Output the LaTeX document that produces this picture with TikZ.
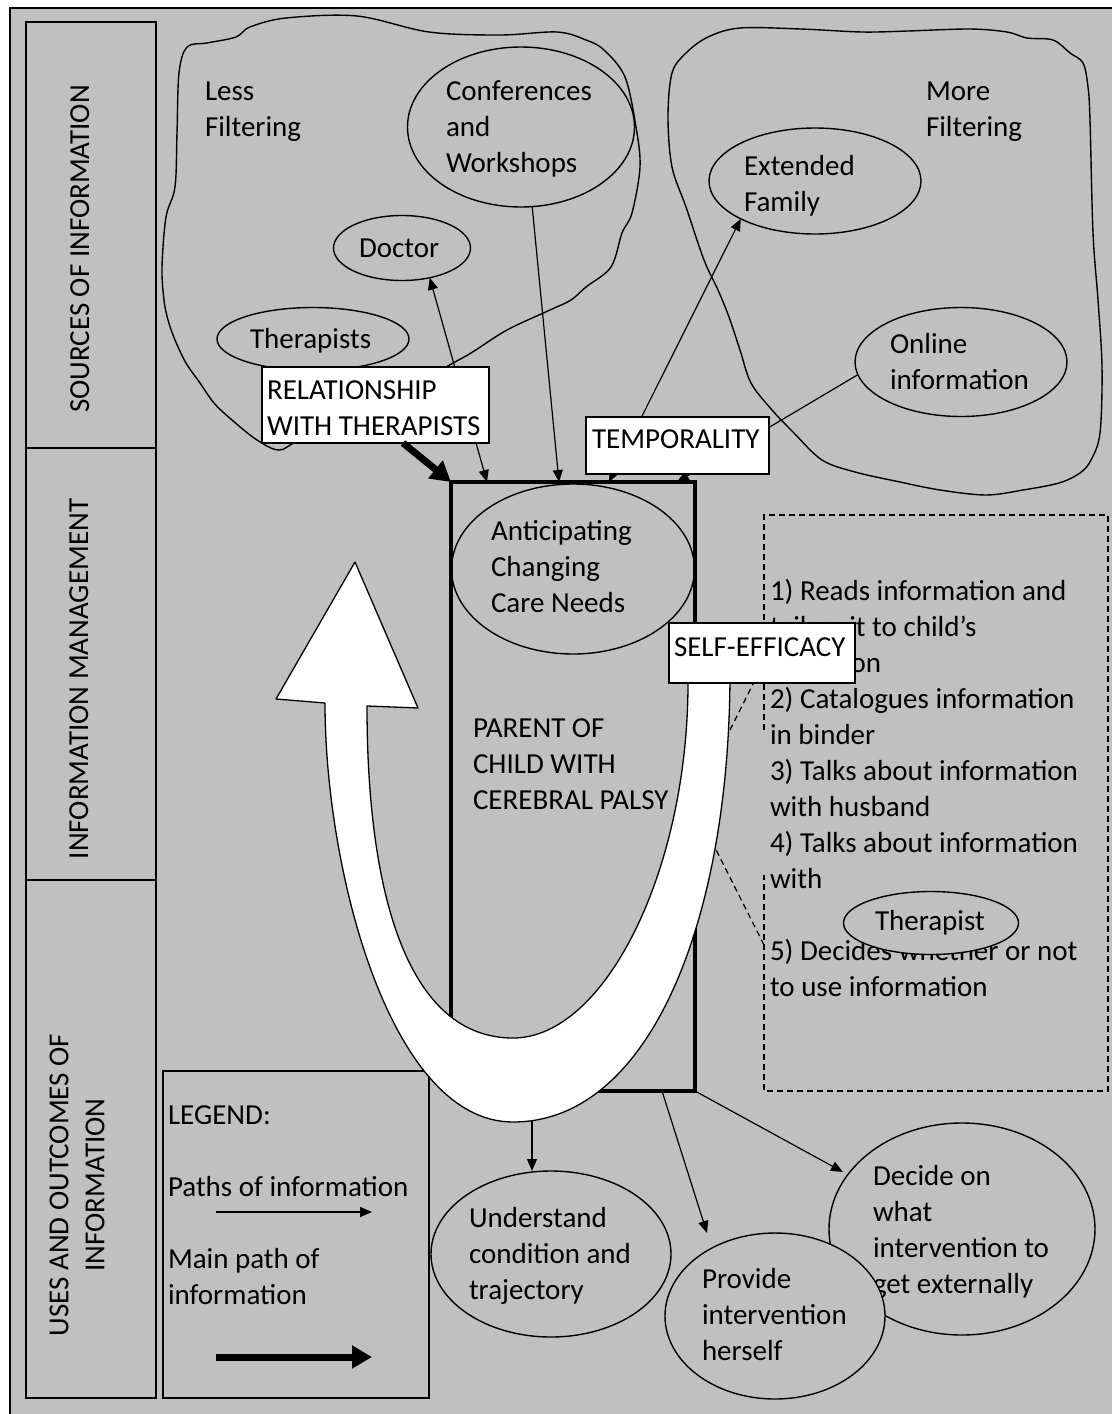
\documentclass[tikz,border=0pt]{standalone}
\usepackage{fontspec}
\setmainfont{Carlito}
\usetikzlibrary{shapes.geometric, arrows.meta, calc}
\definecolor{panel}{RGB}{192,192,192}
\begin{document}
\begin{tikzpicture}[x=1pt, y=-1pt,
  every node/.style={font=\fontsize{29}{36}\selectfont},
  txt/.style={anchor=north west, inner sep=0pt, outer sep=0pt, align=left, yshift=25.2pt},
  ell/.style={draw, ellipse, line width=1.4pt, inner sep=0pt, outer sep=0pt},
  box/.style={draw, fill=white, line width=1.4pt, inner sep=0pt, outer sep=0pt, anchor=north west},
  col/.style={draw, line width=1.4pt, inner sep=0pt, outer sep=0pt, anchor=north west, minimum width=130pt},
  side/.style={rotate=90, anchor=base, inner sep=0pt},
  blob/.style={line width=1.4pt},
  flow/.style={line width=1.2pt, -{Triangle[length=12pt,width=10pt]}},
  both/.style={line width=1.2pt, {Triangle[length=12pt,width=10pt]}-{Triangle[length=12pt,width=10pt]}},
  mainflow/.style={line width=7pt, -{Triangle[length=20pt,width=22pt]}},
  callout/.style={line width=1.2pt, dash pattern=on 6pt off 4pt},
  loop/.style={draw, fill=white, line width=1.3pt, line join=round},
]
\useasboundingbox (0,0) rectangle (1112,1414);

% page panel
\fill[panel] (10,8) rectangle (1112,1414);
\draw[line width=1.5pt] (10,1414) -- (10,8) -- (1112,8);

% stage column
\node[col, minimum height=426pt] (c1) at (26,22) {};
\node[col, minimum height=432pt] (c2) at (26,448) {};
\node[col, minimum height=518pt] (c3) at (26,880) {};
\node[side] (c1t) at (89,249) {SOURCES OF INFORMATION};
\node[side] (c2t) at (88,679) {INFORMATION MANAGEMENT};
\node[rotate=90, anchor=north, inner sep=0pt, align=center] (c3t) at (43,1185) {\strut USES AND OUTCOMES OF\\INFORMATION};

% filtering regions
\draw[blob] plot[smooth cycle, tension=0.55] coordinates {
  (187,47) (207,43) (236,37) (250,27) (286,18) (357,16) (429,32) (500,35)
  (557,32) (586,40) (604,50) (625,77) (636,127) (640,167) (632,213) (622,233)
  (611,267) (586,287) (571,300) (550,310) (507,330) (471,353) (446,367)
  (380,405) (300,440) (279,450) (257,440) (232,420) (214,403) (200,383)
  (186,363) (175,340) (168,320) (164,300) (162,267) (166,217) (175,187)
  (177,133) (179,73)};
\draw[blob] plot[smooth cycle, tension=0.55] coordinates {
  (740,28) (801,29) (862,32) (908,31) (970,29) (1007,32) (1027,38) (1053,40)
  (1070,53) (1083,63) (1088,87) (1090,120) (1093,233) (1098,300) (1102,367)
  (1100,433) (1091,460) (1080,473) (1059,483) (1023,490) (986,495) (940,490)
  (900,482) (855,472) (822,460) (794,433) (772,410) (751,383) (740,350)
  (729,317) (718,290) (704,260) (686,207) (672,167) (668,117) (672,73)
  (686,53) (708,37)};
\node[txt] (lessT) at (205,100) {\strut Less\\Filtering};
\node[txt] (moreT) at (926,100) {\strut More\\Filtering};

% sources
\node[ell, minimum width=227pt, minimum height=160pt] (conf) at (521,127) {};
\node[ell, minimum width=137pt, minimum height=65pt] (doc) at (402,248) {};
\node[ell, minimum width=192pt, minimum height=63pt] (ther) at (313,339) {};
\node[ell, minimum width=212pt, minimum height=106pt] (ext) at (815,181) {};
\node[ell, minimum width=212pt, minimum height=109pt] (online) at (961,362) {};
\node[txt] (confT) at (446,100) {\strut Conferences\\and\\Workshops};
\node[txt] (docT) at (359,257) {\strut Doctor};
\node[txt] (therT) at (250,348) {\strut Therapists};
\node[txt] (extT) at (744,175) {\strut Extended\\Family};
\node[txt] (onlineT) at (890,353) {\strut Online\\information};

% parent
\node[draw, line width=4.5pt, inner sep=0pt, outer sep=0pt, anchor=north west,
      minimum width=244pt, minimum height=609pt] (main) at (451,482) {};
\coordinate (mA) at ($(main.north west)+(36,0)$);
\coordinate (mB) at ($(main.north west)+(108,0)$);
\coordinate (mC) at ($(main.north west)+(158,0)$);
\coordinate (mD) at ($(main.north west)+(226,0)$);
\coordinate (mE) at ($(main.south west)+(81,0)$);
\coordinate (mF) at ($(main.south west)+(211,0)$);

% paths of information
\draw[both] (mA) -- (doc.-47);
\draw[flow] (conf.-82) -- (mB);
\draw[both] (mC) -- (ext.-153);
\draw[flow] (online.-173) -- (mD);

\node[box, minimum width=227pt, minimum height=76pt] (rel) at (262,367) {};
\node[txt] (relT) at (267,399) {\strut RELATIONSHIP\\WITH THERAPISTS};
\node[box, minimum width=183pt, minimum height=57pt] (temp) at (586,417) {};
\node[txt] (tempT) at (592,448) {\strut TEMPORALITY};
\draw[mainflow] ($(rel.south west)+(141,0)$) -- (main.north west);

\node[ell, minimum width=243pt, minimum height=170pt] (ant) at (573,569) {};
\node[txt] (antT) at (491,540) {\strut Anticipating\\Changing\\Care Needs};
\node[txt] (parT) at (473,737) {\strut PARENT OF\\CHILD WITH\\CEREBRAL PALSY};

% management steps
\draw[callout] (764,730) -- (764,515) -- (1108,515) -- (1108,1091) -- (764,1091) -- (764,875);
\node[txt] (steps) at (770,600) {\strut 1) Reads information and\\tailors it to child’s\\condition\\2) Catalogues information\\in binder\\3) Talks about information\\with husband\\4) Talks about information\\with\\[36pt]5) Decides whether or not\\to use information};
\node[ell, fill=panel, minimum width=175pt, minimum height=63pt] (tp) at (931,923) {};
\node[txt] (tpT) at (875,930) {\strut Therapist};
\coordinate (k1) at (764,662);
\coordinate (k2) at (720,750);
\coordinate (k3) at (764,945);
\coordinate (k4) at (700,818);
\draw[callout] (k1) -- (k2);
\draw[callout] (k3) -- (k4);

% legend
\node[draw, line width=1.4pt, inner sep=0pt, outer sep=0pt, anchor=north west,
      minimum width=266pt, minimum height=327pt] (lgd) at (163,1071) {};
\node[txt] (lgdT) at (168,1124) {\strut LEGEND:\\[36pt]Paths of information\\[36pt]Main path of\\information};
\coordinate (la) at (216,1212);
\coordinate (lb) at (372,1212);
\coordinate (lc) at (216,1357);
\coordinate (ld) at (372,1357);
\draw[flow] (la) -- (lb);
\draw[mainflow] (lc) -- (ld);

% outcomes
\node[ell, minimum width=240pt, minimum height=166pt] (und) at (551,1254) {};
\node[txt] (undT) at (469,1227) {\strut Understand\\condition and\\trajectory};
\node[ell, minimum width=266pt, minimum height=212pt] (dec) at (962,1229) {};
\node[txt] (decT) at (873,1185) {\strut Decide on\\what\\intervention to\\get externally};
\node[ell, fill=panel, minimum width=220pt, minimum height=166pt] (prov) at (775,1316) {};
\node[txt] (provT) at (702,1288) {\strut Provide\\intervention\\herself};
\draw[flow] (mE) -- (und.north -| mE);
\draw[flow] (mF) -- ($(prov.north)+(-68,0)$);
\draw[flow] (main.south east) -- ($(dec.center)+(-119,-57)$);

% management loop arrow
\draw[loop] (730,672) .. controls (730,920) and (650,1122) .. (513,1122)
  .. controls (390,1122) and (325,870) .. (325,703)
  -- (276,699) -- (355,562) -- (418,708) -- (367,706)
  .. controls (367,900) and (410,1038) .. (513,1038)
  .. controls (605,1038) and (688,870) .. (688,683) -- cycle;

\node[box, minimum width=186pt, minimum height=60pt] (self) at (669,623) {};
\node[txt] (selfT) at (674,656) {\strut SELF-EFFICACY};
\end{tikzpicture}
\end{document}
